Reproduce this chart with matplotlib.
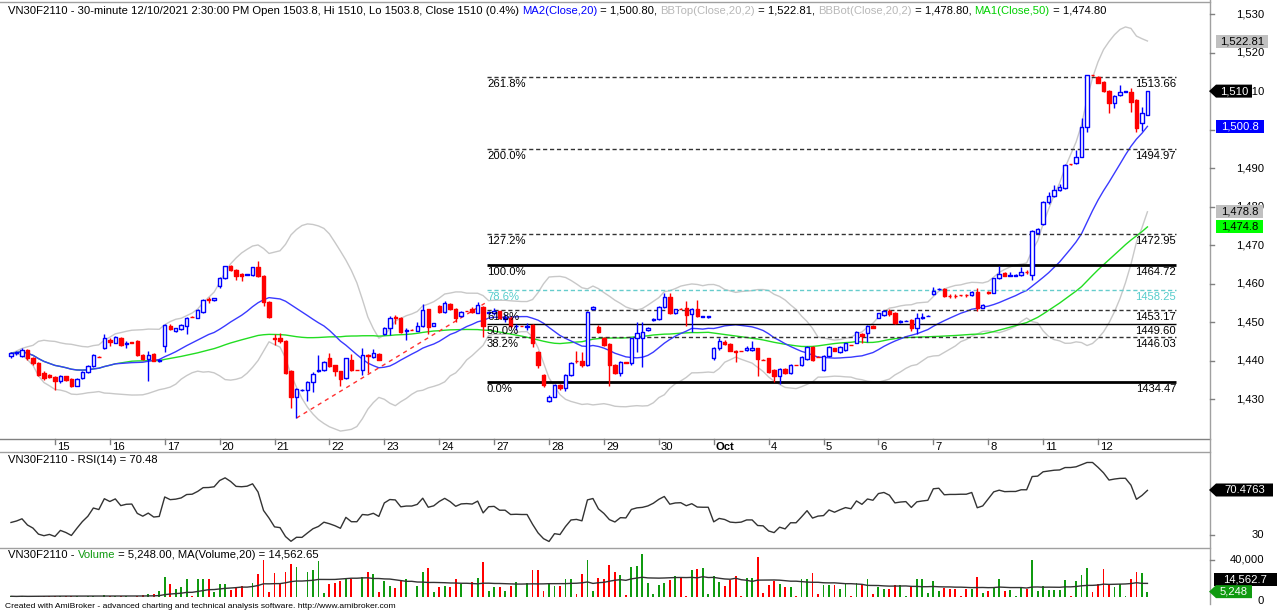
import numpy as np
import pandas as pd
import matplotlib
matplotlib.use("Agg")
import matplotlib.pyplot as plt
from matplotlib.patches import Rectangle, Polygon
from matplotlib.collections import PatchCollection
from matplotlib.lines import Line2D

W, H = 1279, 610
FONT = "Liberation Sans"
plt.rcParams["font.family"] = [FONT, "DejaVu Sans"]
FS = 8.1

# ---------------- data ----------------
DAY_LABELS = ["15", "16", "17", "20", "21", "22", "23", "24", "27", "28", "29",
              "30", "Oct", "4", "5", "6", "7", "8", "11", "12"]
BARS_PER_DAY = [8] + [10] * 20   # Sep 14 (partly visible) .. Oct 12

OPEN = [
    1441.2, 1441.9, 1441.3, 1442.9, 1440.6, 1439.5, 1436.8, 1436.2,                          # Sep 14
    1435.7, 1434.6, 1435.9, 1435.2, 1433.5, 1435.4, 1437.0, 1438.5, 1441.0, 1443.2,          # Sep 15
    1445.5, 1444.7, 1446.0, 1444.4, 1444.8, 1445.1, 1441.6, 1440.4, 1441.8, 1440.0,          # Sep 16
    1443.8, 1449.0, 1447.7, 1448.1, 1448.9, 1451.4, 1451.2, 1452.7, 1455.9, 1455.7,          # Sep 17
    1459.3, 1461.5, 1464.5, 1463.6, 1462.6, 1462.3, 1462.3, 1464.4, 1462.0, 1455.3,          # Sep 20
    1445.8, 1446.0, 1445.2, 1437.3, 1430.7, 1432.4, 1432.4, 1434.4, 1437.2, 1437.6,          # Sep 21
    1440.8, 1438.9, 1437.2, 1435.4, 1440.2, 1437.6, 1437.6, 1441.6, 1441.0, 1441.7,          # Sep 22
    1446.9, 1448.6, 1451.4, 1451.2, 1447.8, 1448.0, 1447.8, 1449.0, 1453.3, 1449.1,          # Sep 23
    1454.2, 1452.6, 1454.7, 1453.4, 1451.5, 1452.9, 1453.5, 1452.5, 1454.0, 1452.3,          # Sep 24
    1452.3, 1452.8, 1450.7, 1451.2, 1448.9, 1449.0, 1448.8, 1449.2, 1442.3, 1436.3,          # Sep 27
    1429.6, 1430.7, 1433.6, 1432.8, 1436.3, 1440.0, 1439.9, 1438.9, 1453.4, 1448.8,          # Sep 28
    1445.8, 1444.3, 1438.9, 1436.7, 1439.6, 1439.3, 1445.8, 1445.8, 1448.0, 1450.5,          # Sep 29
    1450.7, 1454.0, 1456.6, 1452.3, 1453.5, 1453.6, 1452.0, 1453.5, 1451.4, 1451.4,          # Sep 30
    1440.6, 1443.2, 1444.9, 1444.3, 1442.5, 1442.5, 1442.8, 1442.8, 1443.2, 1440.3,          # Oct 1
    1440.6, 1437.6, 1436.0, 1437.8, 1436.8, 1438.9, 1438.9, 1440.5, 1443.6, 1441.0,          # Oct 4
    1437.6, 1441.2, 1443.2, 1442.3, 1442.8, 1444.1, 1444.7, 1446.9, 1447.3, 1449.0,          # Oct 5
    1451.2, 1451.8, 1453.0, 1452.5, 1450.0, 1450.3, 1450.6, 1448.6, 1451.2, 1451.6,          # Oct 6
    1457.3, 1458.5, 1458.6, 1456.9, 1456.9, 1457.0, 1457.0, 1457.0, 1457.8, 1453.8,          # Oct 7
    1457.9, 1457.7, 1461.4, 1462.9, 1462.1, 1462.1, 1462.2, 1463.1, 1462.2, 1473.2,          # Oct 8
    1475.5, 1481.2, 1482.7, 1484.4, 1484.8, 1491.0, 1491.3, 1493.0, 1500.7, 1514.1,          # Oct 11
    1513.7, 1512.4, 1510.0, 1506.9, 1509.0, 1509.9, 1509.9, 1507.7, 1501.6, 1503.8,          # Oct 12
]
HIGH = [
    1442.3, 1442.6, 1443.3, 1443.1, 1440.9, 1439.7, 1437.2, 1436.5,
    1436.0, 1436.3, 1436.1, 1435.4, 1435.4, 1437.2, 1439.0, 1441.8, 1441.1, 1447.0,
    1445.8, 1446.4, 1446.2, 1445.0, 1444.9, 1445.3, 1441.8, 1442.4, 1442.0, 1440.5,
    1449.6, 1449.4, 1448.6, 1449.4, 1451.4, 1451.5, 1453.4, 1456.0, 1456.6, 1456.4,
    1461.7, 1464.7, 1464.8, 1463.8, 1462.8, 1462.5, 1464.4, 1465.8, 1462.2, 1455.5,
    1447.0, 1447.2, 1445.4, 1437.5, 1432.9, 1432.6, 1434.7, 1437.1, 1441.5, 1439.9,
    1442.0, 1439.0, 1437.4, 1440.8, 1441.7, 1437.7, 1443.4, 1441.8, 1443.0, 1441.9,
    1448.8, 1451.5, 1451.8, 1451.4, 1448.4, 1448.1, 1450.0, 1454.7, 1453.5, 1449.9,
    1454.5, 1455.6, 1455.0, 1453.6, 1453.0, 1453.0, 1454.0, 1455.3, 1454.3, 1452.8,
    1453.8, 1453.0, 1452.0, 1451.5, 1449.6, 1449.1, 1449.8, 1449.5, 1442.5, 1436.5,
    1431.0, 1434.0, 1434.0, 1436.5, 1439.7, 1442.4, 1442.3, 1453.0, 1454.3, 1449.3,
    1446.2, 1444.5, 1439.2, 1439.9, 1439.7, 1446.0, 1450.1, 1450.1, 1448.8, 1451.0,
    1454.2, 1457.6, 1457.6, 1453.5, 1453.6, 1455.4, 1453.6, 1455.7, 1451.6, 1451.6,
    1443.5, 1446.0, 1445.3, 1444.5, 1442.7, 1442.6, 1443.8, 1445.0, 1443.4, 1440.4,
    1440.8, 1437.8, 1438.1, 1438.0, 1439.2, 1439.0, 1441.2, 1443.8, 1443.8, 1441.1,
    1441.4, 1443.7, 1443.4, 1443.8, 1444.7, 1444.2, 1447.7, 1447.1, 1449.2, 1449.2,
    1452.5, 1453.2, 1453.3, 1452.7, 1450.6, 1450.6, 1450.8, 1452.5, 1452.3, 1451.8,
    1459.2, 1458.9, 1458.8, 1457.4, 1457.4, 1457.1, 1457.4, 1458.0, 1459.0, 1454.6,
    1458.0, 1461.6, 1464.7, 1463.1, 1463.0, 1462.4, 1464.2, 1463.6, 1474.0, 1474.5,
    1481.4, 1483.7, 1485.6, 1486.0, 1491.1, 1491.1, 1494.7, 1503.0, 1514.3, 1514.2,
    1514.0, 1512.6, 1510.2, 1508.9, 1511.7, 1510.1, 1510.8, 1507.9, 1506.0, 1510.0,
]
LOW = [
    1440.8, 1441.5, 1441.0, 1440.3, 1438.8, 1435.9, 1435.0, 1435.4,
    1432.4, 1434.3, 1434.7, 1433.2, 1433.3, 1435.2, 1436.8, 1438.3, 1440.9, 1443.0,
    1443.8, 1444.5, 1443.8, 1443.3, 1444.6, 1441.3, 1440.2, 1434.8, 1439.8, 1439.6,
    1442.2, 1447.9, 1447.4, 1447.9, 1447.0, 1451.3, 1451.0, 1452.5, 1454.9, 1455.6,
    1459.0, 1461.3, 1463.2, 1461.0, 1460.7, 1462.2, 1462.1, 1461.8, 1454.2, 1451.2,
    1444.0, 1444.6, 1436.5, 1427.7, 1425.1, 1432.2, 1429.6, 1431.8, 1437.0, 1437.4,
    1438.4, 1435.9, 1433.3, 1435.2, 1437.4, 1437.5, 1436.2, 1436.9, 1440.8, 1440.1,
    1446.6, 1446.8, 1449.6, 1447.2, 1445.5, 1447.9, 1447.6, 1448.8, 1446.9, 1448.9,
    1452.3, 1452.4, 1453.2, 1450.0, 1451.3, 1452.8, 1452.5, 1452.3, 1446.1, 1452.2,
    1451.8, 1450.8, 1450.0, 1448.6, 1447.9, 1448.9, 1448.0, 1443.5, 1438.0, 1433.2,
    1429.3, 1430.5, 1432.5, 1432.0, 1436.0, 1439.4, 1438.3, 1438.6, 1453.2, 1447.1,
    1443.9, 1433.3, 1436.5, 1435.9, 1439.4, 1439.0, 1442.2, 1438.4, 1447.8, 1450.3,
    1450.5, 1453.8, 1452.0, 1452.1, 1453.4, 1448.9, 1447.5, 1451.3, 1451.3, 1451.2,
    1440.3, 1442.9, 1444.0, 1442.4, 1439.7, 1442.4, 1442.6, 1442.6, 1435.9, 1440.1,
    1436.8, 1434.5, 1433.9, 1436.5, 1436.6, 1438.8, 1438.7, 1440.3, 1440.0, 1440.9,
    1437.4, 1441.0, 1442.4, 1442.1, 1442.6, 1444.0, 1444.5, 1444.5, 1444.9, 1448.4,
    1451.0, 1451.5, 1451.6, 1449.5, 1449.8, 1450.2, 1447.6, 1446.9, 1450.7, 1451.5,
    1457.1, 1458.3, 1456.5, 1456.4, 1456.4, 1456.9, 1456.6, 1456.8, 1453.0, 1453.6,
    1457.4, 1457.5, 1461.2, 1461.9, 1462.0, 1462.0, 1462.0, 1462.6, 1460.9, 1473.0,
    1475.3, 1480.8, 1482.5, 1484.0, 1484.6, 1490.9, 1491.0, 1492.8, 1499.3, 1513.9,
    1512.0, 1509.8, 1504.3, 1505.5, 1508.8, 1509.8, 1504.5, 1499.3, 1499.7, 1503.8,
]
CLOSE = [
    1441.9, 1442.3, 1442.9, 1440.6, 1439.3, 1436.3, 1435.4, 1435.7,
    1434.6, 1436.0, 1435.0, 1433.5, 1435.2, 1437.0, 1438.6, 1441.5, 1441.0, 1445.8,
    1444.9, 1446.2, 1444.0, 1444.6, 1444.7, 1441.5, 1440.4, 1441.5, 1440.0, 1440.2,
    1449.2, 1448.2, 1448.5, 1449.2, 1451.2, 1451.4, 1453.1, 1455.7, 1455.8, 1456.3,
    1461.5, 1464.5, 1463.5, 1462.1, 1462.0, 1462.4, 1464.2, 1462.0, 1455.3, 1451.4,
    1445.6, 1445.0, 1436.8, 1430.7, 1432.6, 1432.5, 1434.5, 1436.5, 1437.6, 1439.7,
    1438.6, 1437.2, 1435.3, 1440.6, 1437.6, 1437.6, 1441.4, 1441.1, 1442.0, 1440.3,
    1448.5, 1451.2, 1451.0, 1447.5, 1448.0, 1448.0, 1449.0, 1453.1, 1448.8, 1449.7,
    1452.6, 1454.9, 1453.4, 1451.2, 1452.7, 1452.9, 1452.7, 1454.4, 1449.1, 1452.6,
    1452.8, 1451.0, 1451.0, 1449.0, 1449.1, 1449.0, 1449.0, 1444.5, 1438.9, 1433.7,
    1430.6, 1433.7, 1432.9, 1436.3, 1439.5, 1439.8, 1438.9, 1452.7, 1454.0, 1447.5,
    1444.1, 1438.9, 1436.7, 1439.7, 1439.5, 1445.8, 1447.1, 1447.5, 1448.6, 1450.7,
    1454.0, 1456.6, 1452.3, 1453.3, 1453.5, 1451.9, 1453.3, 1451.6, 1451.5, 1451.5,
    1443.2, 1445.0, 1444.3, 1442.6, 1442.3, 1442.5, 1443.4, 1443.4, 1440.4, 1440.2,
    1437.1, 1436.0, 1437.8, 1436.8, 1438.9, 1438.9, 1441.0, 1443.5, 1440.2, 1441.0,
    1441.2, 1443.5, 1442.6, 1443.6, 1444.5, 1444.1, 1447.5, 1446.4, 1449.0, 1448.6,
    1452.3, 1453.0, 1452.2, 1449.8, 1450.2, 1450.4, 1448.6, 1451.0, 1451.4, 1451.7,
    1458.2, 1458.6, 1456.7, 1456.9, 1456.9, 1457.0, 1457.0, 1457.8, 1453.8, 1454.5,
    1457.5, 1461.4, 1462.5, 1462.1, 1462.2, 1462.2, 1463.1, 1463.1, 1473.8, 1474.3,
    1481.2, 1482.7, 1484.4, 1485.0, 1490.9, 1491.0, 1493.0, 1500.7, 1514.1, 1514.1,
    1512.2, 1510.0, 1506.9, 1508.7, 1509.9, 1510.0, 1507.3, 1500.5, 1504.2, 1510.0,
]
VOLUME = [  # contracts
    800, 500, 1200, 300, 1000, 1500, 1200, 800,
    1500, 800, 1000, 1200, 600, 300, 1000, 1500, 500, 1800,
    1200, 1500, 1000, 800, 300, 1500, 2000, 3000, 3000, 6000,
    22000, 14000, 9000, 11000, 19000, 1000, 20000, 20000, 20000, 5000,
    14000, 14000, 8000, 10000, 12000, 500, 15000, 25000, 40000, 5000,
    26000, 15000, 27000, 36000, 32000, 500, 27000, 29000, 39000, 4000,
    14000, 15000, 17000, 20000, 19000, 500, 22000, 27000, 25000, 5000,
    17000, 12000, 10000, 17000, 19000, 500, 12000, 27000, 31000, 5000,
    11000, 12000, 11000, 19000, 14000, 500, 16000, 21000, 38000, 6000,
    11000, 11000, 6000, 12000, 16000, 500, 15000, 29000, 29000, 6000,
    15000, 12000, 12000, 19000, 20000, 3000, 25000, 40000, 6000, 21000,
    20000, 35000, 27000, 24000, 2000, 32000, 33000, 46000, 15000, 3000,
    13000, 15000, 18000, 23000, 21000, 1000, 29000, 30000, 31000, 3000,
    23000, 16000, 12000, 18000, 23000, 1000, 21000, 21000, 43000, 4000,
    13000, 17000, 14000, 11000, 11000, 1000, 20000, 20000, 26000, 3000,
    13000, 13000, 13000, 9000, 14000, 1000, 15000, 13000, 20000, 3000,
    11000, 9000, 9000, 13000, 13000, 1000, 11000, 19000, 19000, 4000,
    17000, 7000, 10000, 9000, 9000, 1000, 9000, 9000, 22000, 4000,
    7000, 11000, 20000, 7000, 8000, 1000, 11000, 9000, 40000, 6000,
    12000, 8000, 8000, 8000, 18000, 1000, 17000, 24000, 31000, 5000,
    14000, 30000, 14000, 11000, 14000, 1000, 20000, 27000, 26000, 5248,
]

FIB_LEVELS = [1434.47, 1446.03, 1449.60, 1453.17, 1458.25, 1464.72, 1472.95, 1494.97, 1513.66]
FIB_PCT = ["0.0%", "38.2%", "50.0%", "61.8%", "78.6%", "100.0%", "127.2%", "200.0%", "261.8%"]
FIB_START, FIB_END = 86.7, 212.2          # bar positions
TREND_BARS = [52.0, 86.3]
TREND_PRICES = [1425.1, 1454.9]

PRICE_TICKS = [1430, 1440, 1450, 1460, 1470, 1480, 1490, 1500, 1510, 1520, 1530]
HIDDEN_TICK_LABELS = [1500]   # covered by the MA20 value tag in the reference

TITLE_PARTS = [
    ("VN30F2110 - 30-minute 12/10/2021 2:30:00 PM Open 1503.8, Hi 1510, Lo 1503.8, Close 1510 (0.4%) ", "black"),
    ("MA2(Close,20)", "#0000ff"), (" = 1,500.80, ", "black"),
    ("BBTop(Close,20,2)", "#b8b8b8"), (" = 1,522.81, ", "black"),
    ("BBBot(Close,20,2)", "#b8b8b8"), (" = 1,478.80, ", "black"),
    ("MA1(Close,50)", "#00d000"), (" = 1,474.80", "black"),
]
RSI_TITLE = "VN30F2110 - RSI(14) = 70.48"
VOL_TITLE_PARTS = [("VN30F2110 - ", "black"), ("Volume", "#109a10"),
                   (" = 5,248.00, MA(Volume,20) = 14,562.65", "black")]
FOOTER = ("Created with AmiBroker - advanced charting and technical analysis software. "
          "http://www.amibroker.com")

LAST_BBTOP, LAST_CLOSE, LAST_MA20, LAST_BBBOT, LAST_MA50 = 1522.81, 1510.0, 1500.80, 1478.80, 1474.80
LAST_RSI, LAST_VOLMA, LAST_VOL = 70.4763, 14562.65, 5248
TAG_TEXTS = ["1,522.81", "1,510", "1,500.8", "1,478.8", "1,474.8", "70.4763", "14,562.7", "5,248"]

# ---------------- indicators ----------------
n = len(CLOSE)
x = np.arange(n)
o, h, l, c = map(np.asarray, (OPEN, HIGH, LOW, CLOSE))
cs = pd.Series(c)
ma20 = cs.rolling(20, min_periods=1).mean()
sd20 = cs.rolling(20, min_periods=1).std(ddof=0)
bbt, bbb = ma20 + 2 * sd20, ma20 - 2 * sd20
ma50 = cs.rolling(50, min_periods=1).mean()
vol = np.asarray(VOLUME, dtype=float)
volma = pd.Series(vol).rolling(20, min_periods=1).mean()

d = np.diff(c, prepend=c[0])
gain, loss = np.clip(d, 0, None), np.clip(-d, 0, None)
ag, al = gain[1:15].mean(), loss[1:15].mean()
rsi = []
for i in range(n):
    if i > 0:
        ag = (ag * 13 + gain[i]) / 14
        al = (al * 13 + loss[i]) / 14
    rsi.append(100 - 100 / (1 + ag / al) if al > 0 else 100)
rsi = np.array(rsi)

# ---------------- layout helpers ----------------
fig = plt.figure(figsize=(W / 100, H / 100), dpi=100)
fig.patch.set_facecolor("white")


def fx(px):
    return px / W


def fy(py):
    return 1 - py / H


def axes_px(x0, y0, x1, y1):
    a = fig.add_axes([fx(x0), fy(y1), (x1 - x0) / W, (y1 - y0) / H])
    a.set_axis_off()
    return a


X0_BAR, BAR_PX = 11.0, 5.49
AX_RIGHT = 1210
xlim = (-X0_BAR / BAR_PX, (AX_RIGHT - X0_BAR) / BAR_PX)


def bar_px(i):
    return X0_BAR + BAR_PX * i


P_REF, P_Y, P_SCALE = 1530.0, 14.1, 3.851


def price_py(p):
    return P_Y + (P_REF - p) * P_SCALE


MAIN_TOP, MAIN_BOT = 3, 439
ax = axes_px(0, MAIN_TOP, AX_RIGHT, MAIN_BOT)
ax.set_xlim(*xlim)
ax.set_ylim(P_REF - (MAIN_BOT - P_Y) / P_SCALE, P_REF + (P_Y - MAIN_TOP) / P_SCALE)

RSI_TOP, RSI_BOT = 453, 547
ax_r = axes_px(0, RSI_TOP, AX_RIGHT, RSI_BOT)
ax_r.set_xlim(*xlim)
R30_Y, R_SCALE = 535.0, 1.112
ax_r.set_ylim(30 - (RSI_BOT - R30_Y) / R_SCALE, 30 + (R30_Y - RSI_TOP) / R_SCALE)

VOL_TOP, VOL_BOT = 549, 598
ax_v = axes_px(0, VOL_TOP, AX_RIGHT, VOL_BOT)
ax_v.set_xlim(*xlim)
V0_Y, V_SCALE = 597.0, 0.925 / 1000
ax_v.set_ylim(-(VOL_BOT - V0_Y) / V_SCALE, (V0_Y - VOL_TOP) / V_SCALE)

# ---------------- main price panel ----------------
ax.plot(x, bbt, color="#c8c8c8", lw=1.0, zorder=1)
ax.plot(x, bbb, color="#c8c8c8", lw=1.0, zorder=1)
ax.plot(x, ma50, color="#22dd22", lw=1.0, zorder=2)
ax.plot(x, ma20, color="#3a3aff", lw=1.0, zorder=2)

for lev, pct in zip(FIB_LEVELS, FIB_PCT):
    if pct in ("0.0%", "100.0%"):
        ls, lw, col = "-", 2.0, "black"
    elif pct == "50.0%":
        ls, lw, col = "-", 1.0, "black"
    elif pct == "78.6%":
        ls, lw, col = (0, (3, 2)), 1.0, "#66cccc"
    else:
        ls, lw, col = (0, (3, 2)), 1.0, "#333333"
    ax.hlines(lev, FIB_START, FIB_END, colors=col, linestyles=ls, lw=lw, zorder=2)
    tcol = "#55cccc" if pct == "78.6%" else "black"
    yy = price_py(lev) + 7
    fig.text(fx(bar_px(FIB_START)), fy(yy), pct, color=tcol, fontsize=FS,
             ha="left", va="center")
    fig.text(fx(bar_px(FIB_END)), fy(yy), f"{lev:.2f}", color=tcol, fontsize=FS,
             ha="right", va="center")

ax.plot(TREND_BARS, TREND_PRICES, color="#ff3030", lw=1.0, ls=(0, (3, 3)), zorder=2)

up = c > o
wick_col = np.where(up, "#0000ff", "#ff0000")
ax.vlines(x, l, h, colors=wick_col, lw=1.0, zorder=3)
bw = 0.62
rects_up, rects_dn = [], []
for i in range(n):
    lo_, hi_ = min(o[i], c[i]), max(o[i], c[i])
    r = Rectangle((i - bw / 2, lo_), bw, hi_ - lo_)
    (rects_up if up[i] else rects_dn).append(r)
ax.add_collection(PatchCollection(rects_up, facecolor="white", edgecolor="#0000ff",
                                  linewidth=1.0, zorder=4))
ax.add_collection(PatchCollection(rects_dn, facecolor="#ff0000", edgecolor="#ff0000",
                                  linewidth=1.0, zorder=4))

# ---------------- RSI panel ----------------
ax_r.plot(x, rsi, color="#333333", lw=1.0)

# ---------------- volume panel ----------------
vcol = np.where(up, "#109a10", "#ff0000")
ax_v.bar(x, vol, width=0.34, color=vcol, linewidth=0)
ax_v.plot(x, volma, color="#333333", lw=1.0)


# ---------------- frame lines ----------------
def hline_px(y, x0, x1, color="#a0a0a0", lw=1.0):
    fig.add_artist(Line2D([fx(x0), fx(x1)], [fy(y), fy(y)], color=color, lw=lw))


def vline_px(xp, y0, y1, color="#a0a0a0", lw=1.0):
    fig.add_artist(Line2D([fx(xp), fx(xp)], [fy(y0), fy(y1)], color=color, lw=lw))


hline_px(2, 0, AX_RIGHT)
hline_px(MAIN_BOT, 0, AX_RIGHT, color="#808080")
hline_px(452, 0, AX_RIGHT)
hline_px(548, 0, AX_RIGHT)
vline_px(AX_RIGHT, 0, 604)

starts = np.cumsum([0] + BARS_PER_DAY[:-1])[1:]
for lab, s in zip(DAY_LABELS, starts):
    xp = bar_px(s)
    vline_px(xp, MAIN_BOT, MAIN_BOT + 5, color="#808080")
    fig.text(fx(xp + 2), fy(446.5), lab, fontsize=FS, ha="left", va="center",
             fontweight="bold" if lab == "Oct" else "normal")

LAB_X = 1264
for p in PRICE_TICKS:
    yy = price_py(p)
    hline_px(yy, AX_RIGHT, AX_RIGHT + 4, color="#808080")
    if p not in HIDDEN_TICK_LABELS:
        fig.text(fx(LAB_X), fy(yy), f"{p:,}", fontsize=FS, ha="right", va="center")
hline_px(R30_Y, AX_RIGHT, AX_RIGHT + 4, color="#808080")
fig.text(fx(LAB_X), fy(R30_Y), "30", fontsize=FS, ha="right", va="center")
y40k = V0_Y - 40000 * V_SCALE
hline_px(y40k, AX_RIGHT, AX_RIGHT + 4, color="#808080")
fig.text(fx(LAB_X), fy(y40k), "40,000", fontsize=FS, ha="right", va="center")
fig.text(fx(LAB_X), fy(600.5), "0", fontsize=FS, ha="right", va="center")


def tag(yc, text, bg, fg, x0, x1, arrow=False):
    hh = 6.5
    if arrow:
        pts = [(x0 - 7, yc), (x0, yc - hh), (x1, yc - hh), (x1, yc + hh), (x0, yc + hh)]
    else:
        pts = [(x0, yc - hh), (x1, yc - hh), (x1, yc + hh), (x0, yc + hh)]
    poly = Polygon([(fx(a), fy(b)) for a, b in pts], closed=True, facecolor=bg,
                   edgecolor="none", transform=fig.transFigure, zorder=5)
    fig.add_artist(poly)
    fig.text(fx((x0 + x1) / 2), fy(yc), text, color=fg, fontsize=FS,
             ha="center", va="center", zorder=6)


tag(price_py(LAST_BBTOP), TAG_TEXTS[0], "#c0c0c0", "black", 1216, 1268)
tag(price_py(LAST_CLOSE), TAG_TEXTS[1], "black", "white", 1216, 1252, arrow=True)
tag(price_py(LAST_MA20), TAG_TEXTS[2], "#0000ff", "white", 1216, 1264)
tag(price_py(LAST_BBBOT), TAG_TEXTS[3], "#c0c0c0", "black", 1216, 1263)
tag(price_py(LAST_MA50), TAG_TEXTS[4], "#00ff00", "black", 1216, 1263)
tag(R30_Y - (LAST_RSI - 30) * R_SCALE, TAG_TEXTS[5], "black", "white", 1216, 1273, arrow=True)
tag(579, TAG_TEXTS[6], "black", "white", 1214, 1277)
tag(V0_Y - LAST_VOL * V_SCALE - 0.5, TAG_TEXTS[7], "#109a10", "white", 1216, 1252, arrow=True)

# ---------------- titles ----------------
renderer = fig.canvas.get_renderer()


def text_w(s, size):
    t1 = fig.text(0, 0, "|" + s + "|", fontsize=size)
    t2 = fig.text(0, 0, "||", fontsize=size)
    w = t1.get_window_extent(renderer).width - t2.get_window_extent(renderer).width
    t1.remove()
    t2.remove()
    return w


def colored_line(xp, yp, parts, size=FS):
    for s, col in parts:
        fig.text(fx(xp), fy(yp), s, color=col, fontsize=size, ha="left", va="center")
        xp += text_w(s, size)


colored_line(8, 10.5, TITLE_PARTS)
colored_line(8, 460, [(RSI_TITLE, "black")])
colored_line(8, 555.5, VOL_TITLE_PARTS)
colored_line(5, 606, [(FOOTER, "black")], size=6.1)

fig.savefig("out.png", dpi=100, facecolor="white")
